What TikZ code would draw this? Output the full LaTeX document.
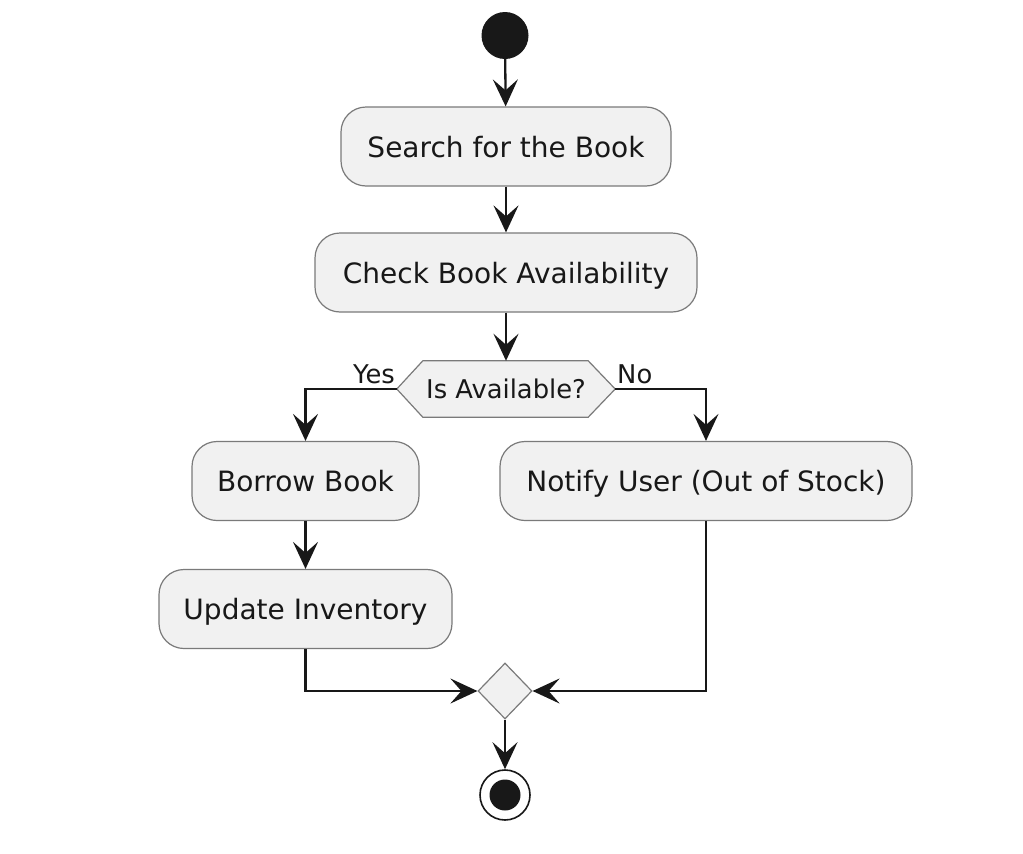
\documentclass[tikz,border=0pt]{standalone}
\usepackage{fontspec}
\setmainfont{DejaVu Sans}
\usetikzlibrary{arrows.meta,shapes.geometric,calc}
\definecolor{boxfill}{HTML}{F1F1F1}
\definecolor{boxline}{HTML}{7A7A7A}
\definecolor{ink}{HTML}{181818}
\begin{document}
\begin{tikzpicture}[x=1pt,y=-1pt,
  act/.style={draw=boxline, line width=1.2pt, fill=boxfill, rounded corners=25pt,
    minimum height=79pt, inner sep=0pt, text height=21pt, text depth=0pt,
    font=\fontsize{28}{34}\selectfont, text=ink},
  flow/.style={draw=ink, line width=2.3pt, -{Stealth[length=27pt,width=25pt,inset=11pt]}},
  lbl/.style={font=\fontsize{25.8}{30}\selectfont, text=ink, inner sep=0pt}]
\useasboundingbox[fill=white] (0,0) rectangle (1023,854);
\node[circle, fill=ink, minimum size=47pt, inner sep=0pt] (start) at (505,35.5) {};
\node[act, minimum width=330pt] (search) at (506,146.5) {Search for the Book};
\node[act, minimum width=382pt] (check) at (506,272.5) {Check Book Availability};
\node[minimum width=218pt, minimum height=56pt, inner sep=0pt] (dec) at (506,389) {};
\filldraw[draw=boxline, fill=boxfill, line width=1.2pt]
  (dec.west) -- ($(dec.north west)+(26,0)$) -- ($(dec.north east)+(-27,0)$) -- (dec.east)
  -- ($(dec.south east)+(-27,0)$) -- ($(dec.south west)+(26,0)$) -- cycle;
\node[lbl, text height=19pt, text depth=0pt] (dectext) at (dec.center) {Is Available?};
\node[lbl, anchor=base east] (yes) at (395,383) {Yes};
\node[lbl, anchor=base west] (no) at (617,383) {No};
\node[act, minimum width=227pt] (borrow) at (305.5,481) {Borrow Book};
\node[act, minimum width=412pt] (notify) at (706,481) {Notify User (Out of Stock)};
\node[act, minimum width=293pt] (update) at (305.5,609) {Update Inventory};
\node[diamond, draw=boxline, fill=boxfill, line width=1.2pt, minimum width=54pt,
  minimum height=56pt, inner sep=0pt] (merge) at (505,691) {};
\node[circle, draw=ink, fill=white, line width=1.6pt, minimum size=50pt, inner sep=0pt] (stop) at (505,795) {};
\node[circle, fill=ink, minimum size=31pt, inner sep=0pt] (stopin) at (stop.center) {};
\draw[flow] (start) -- (search);
\draw[flow] (search) -- (check);
\draw[flow] (check) -- (dec.north);
\draw[flow] (dec.west) -| (borrow.north);
\draw[flow] (dec.east) -| (notify.north);
\draw[flow] (borrow) -- (update);
\draw[flow] (update.south) |- (merge.west);
\draw[flow] (notify.south) |- (merge.east);
\draw[flow] (merge) -- (stop);
\end{tikzpicture}
\end{document}
